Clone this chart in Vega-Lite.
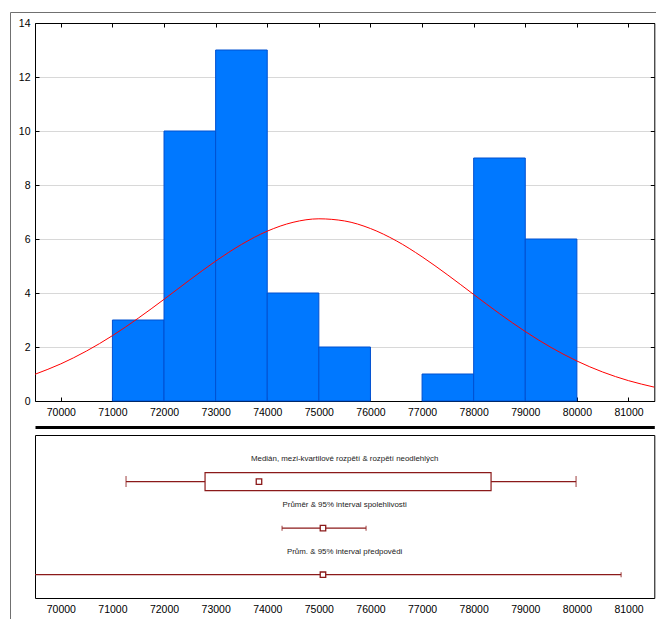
{
  "$schema": "https://vega.github.io/schema/vega-lite/v6.json",
  "width": 647,
  "height": 608,
  "autosize": {"type": "none"},
  "padding": {"left": 10, "top": 12, "right": 0, "bottom": 0},
  "background": "white",
  "config": {
    "view": {"stroke": "#707070", "strokeWidth": 1},
    "font": "Liberation Sans",
    "axis": {"labelFont": "Liberation Sans", "labelFontSize": 10.5, "labelColor": "#000000", "domainColor": "#000000", "tickColor": "#000000", "title": null, "grid": false}
  },
  "datasets": {
    "hist": [
      {"bin_start": 71000, "bin_end": 72000, "count": 3},
      {"bin_start": 72000, "bin_end": 73000, "count": 10},
      {"bin_start": 73000, "bin_end": 74000, "count": 13},
      {"bin_start": 74000, "bin_end": 75000, "count": 4},
      {"bin_start": 75000, "bin_end": 76000, "count": 2},
      {"bin_start": 77000, "bin_end": 78000, "count": 1},
      {"bin_start": 78000, "bin_end": 79000, "count": 9},
      {"bin_start": 79000, "bin_end": 80000, "count": 6}
    ],
    "curve": [
      {"x": 69500, "y": 0.99}, {"x": 70000, "y": 1.375},
      {"x": 70500, "y": 1.853}, {"x": 71000, "y": 2.42}, {"x": 71500, "y": 3.066},
      {"x": 72000, "y": 3.766}, {"x": 72500, "y": 4.486}, {"x": 73000, "y": 5.18},
      {"x": 73500, "y": 5.797}, {"x": 74000, "y": 6.29}, {"x": 74500, "y": 6.618},
      {"x": 75000, "y": 6.748}, {"x": 75500, "y": 6.668}, {"x": 76000, "y": 6.388},
      {"x": 76500, "y": 5.934}, {"x": 77000, "y": 5.342}, {"x": 77500, "y": 4.664},
      {"x": 78000, "y": 3.946}, {"x": 78500, "y": 3.236}, {"x": 79000, "y": 2.573},
      {"x": 79500, "y": 1.983}, {"x": 80000, "y": 1.482}, {"x": 80500, "y": 1.073},
      {"x": 81000, "y": 0.754}, {"x": 81500, "y": 0.513}
    ],
    "stats": [
      {"stat": "A", "label": "Medián, mezi-kvartilové rozpětí & rozpětí neodlehlých", "center": 73840, "box_lo": 72795, "box_hi": 78337, "lo": 71264, "hi": 79984},
      {"stat": "B", "label": "Průměr & 95% interval spolehlivosti", "center": 75080, "lo": 74287, "hi": 75915},
      {"stat": "C", "label": "Prům. & 95% interval předpovědi", "center": 75080, "lo": 69303, "hi": 80857}
    ]
  },
  "resolve": {
    "scale": {"x": "independent", "y": "independent"},
    "axis": {"x": "independent", "y": "independent"}
  },
  "layer": [
    {
      "data": {"name": "hist"},
      "mark": {"type": "rect", "fill": "#0078FF", "stroke": "#0050D0", "strokeWidth": 1},
      "encoding": {
        "x": {"field": "bin_start", "type": "quantitative",
          "scale": {"domain": [69500, 81500], "range": [25, 644.3], "nice": false, "zero": false, "clamp": true},
          "axis": {"orient": "bottom", "offset": -219, "values": [70000, 71000, 72000, 73000, 74000, 75000, 76000, 77000, 78000, 79000, 80000, 81000], "format": "d", "tickSize": -4, "labelPadding": 10}},
        "x2": {"field": "bin_end"},
        "y": {"field": "count", "type": "quantitative",
          "scale": {"domain": [0, 14], "range": [389, 11], "nice": false},
          "axis": {"orient": "left", "offset": -25, "values": [0, 2, 4, 6, 8, 10, 12, 14], "tickSize": -4, "labelPadding": 9, "grid": true, "gridColor": "#d8d8d8"}},
        "y2": {"datum": 0}
      }
    },
    {
      "data": {"name": "curve"},
      "mark": {"type": "line", "color": "#FF0000", "strokeWidth": 1, "interpolate": "monotone"},
      "encoding": {
        "x": {"field": "x", "type": "quantitative",
          "scale": {"domain": [69500, 81500], "range": [25, 644.3], "nice": false, "zero": false, "clamp": true},
          "axis": {"orient": "top", "offset": -11, "values": [70000, 71000, 72000, 73000, 74000, 75000, 76000, 77000, 78000, 79000, 80000, 81000], "labels": false, "tickSize": -4}},
        "y": {"field": "y", "type": "quantitative",
          "scale": {"domain": [0, 14], "range": [389, 11], "nice": false},
          "axis": {"orient": "right", "offset": -2.7, "values": [0, 2, 4, 6, 8, 10, 12, 14], "labels": false, "tickSize": -4}}
      }
    },
    {
      "data": {"name": "stats"},
      "mark": {"type": "rule", "color": "#8B1A1A", "strokeWidth": 1.2},
      "encoding": {
        "x": {"field": "lo", "type": "quantitative",
          "scale": {"domain": [69500, 81500], "range": [25, 644.3], "nice": false, "zero": false, "clamp": true},
          "axis": {"orient": "bottom", "offset": -22, "values": [70000, 71000, 72000, 73000, 74000, 75000, 76000, 77000, 78000, 79000, 80000, 81000], "format": "d", "ticks": false, "labelPadding": 6}},
        "x2": {"field": "hi"},
        "y": {"field": "label", "type": "nominal", "sort": null,
          "scale": {"type": "band", "domain": ["Medián, mezi-kvartilové rozpětí & rozpětí neodlehlých", "Průměr & 95% interval spolehlivosti", "Prům. & 95% interval předpovědi"], "range": [423, 586], "paddingInner": 0, "paddingOuter": 0.25, "align": 1},
          "axis": {"orient": "left", "offset": -25, "labels": false, "ticks": false, "domainColor": "#000000"}}
      }
    },
    {
      "data": {"name": "stats"},
      "transform": [{"filter": "isValid(datum.box_lo)"}],
      "mark": {"type": "bar", "fill": "white", "stroke": "#8B1A1A", "strokeWidth": 1.2, "size": 18},
      "encoding": {
        "x": {"field": "box_lo", "type": "quantitative",
          "scale": {"domain": [69500, 81500], "range": [25, 644.3], "nice": false, "zero": false, "clamp": true},
          "axis": {"orient": "top", "offset": -423, "labels": false, "ticks": false}},
        "x2": {"field": "box_hi"},
        "y": {"field": "label", "type": "nominal", "sort": null,
          "scale": {"type": "band", "domain": ["Medián, mezi-kvartilové rozpětí & rozpětí neodlehlých", "Průměr & 95% interval spolehlivosti", "Prům. & 95% interval předpovědi"], "range": [423, 586], "paddingInner": 0, "paddingOuter": 0.25, "align": 1},
          "axis": {"orient": "right", "offset": -2.7, "labels": false, "ticks": false}}
      }
    },
    {
      "data": {"name": "stats"},
      "transform": [{"fold": ["lo", "hi"], "as": ["end", "value"]}, {"filter": "datum.value >= 69500 && datum.value <= 81500"}],
      "mark": {"type": "tick", "orient": "vertical", "color": "#8B1A1A", "thickness": 1.2},
      "encoding": {
        "x": {"field": "value", "type": "quantitative",
          "scale": {"domain": [69500, 81500], "range": [25, 644.3], "nice": false, "zero": false, "clamp": true},
          "axis": {"orient": "top", "offset": -415, "labels": false, "ticks": false, "domainWidth": 3}},
        "y": {"field": "label", "type": "nominal", "sort": null,
          "scale": {"type": "band", "domain": ["Medián, mezi-kvartilové rozpětí & rozpětí neodlehlých", "Průměr & 95% interval spolehlivosti", "Prům. & 95% interval předpovědi"], "range": [423, 586], "paddingInner": 0, "paddingOuter": 0.25, "align": 1},
          "axis": null},
        "size": {"condition": {"test": "datum.stat === 'A'", "value": 11}, "value": 5}
      }
    },
    {
      "data": {"name": "stats"},
      "mark": {"type": "point", "shape": "square", "size": 30, "fill": "white", "stroke": "#8B1A1A", "strokeWidth": 1.3, "opacity": 1, "filled": false},
      "encoding": {
        "x": {"field": "center", "type": "quantitative",
          "scale": {"domain": [69500, 81500], "range": [25, 644.3], "nice": false, "zero": false, "clamp": true},
          "axis": null},
        "y": {"field": "label", "type": "nominal", "sort": null,
          "scale": {"type": "band", "domain": ["Medián, mezi-kvartilové rozpětí & rozpětí neodlehlých", "Průměr & 95% interval spolehlivosti", "Prům. & 95% interval předpovědi"], "range": [423, 586], "paddingInner": 0, "paddingOuter": 0.25, "align": 1},
          "axis": null}
      }
    },
    {
      "data": {"name": "stats"},
      "mark": {"type": "text", "fontSize": 7.9, "font": "Liberation Sans", "color": "#222222", "dy": -23, "align": "center", "baseline": "middle"},
      "encoding": {
        "x": {"datum": 75500, "type": "quantitative",
          "scale": {"domain": [69500, 81500], "range": [25, 644.3], "nice": false, "zero": false, "clamp": true},
          "axis": null},
        "y": {"field": "label", "type": "nominal", "sort": null,
          "scale": {"type": "band", "domain": ["Medián, mezi-kvartilové rozpětí & rozpětí neodlehlých", "Průměr & 95% interval spolehlivosti", "Prům. & 95% interval předpovědi"], "range": [423, 586], "paddingInner": 0, "paddingOuter": 0.25, "align": 1},
          "axis": null},
        "text": {"field": "label"}
      }
    }
  ]
}
